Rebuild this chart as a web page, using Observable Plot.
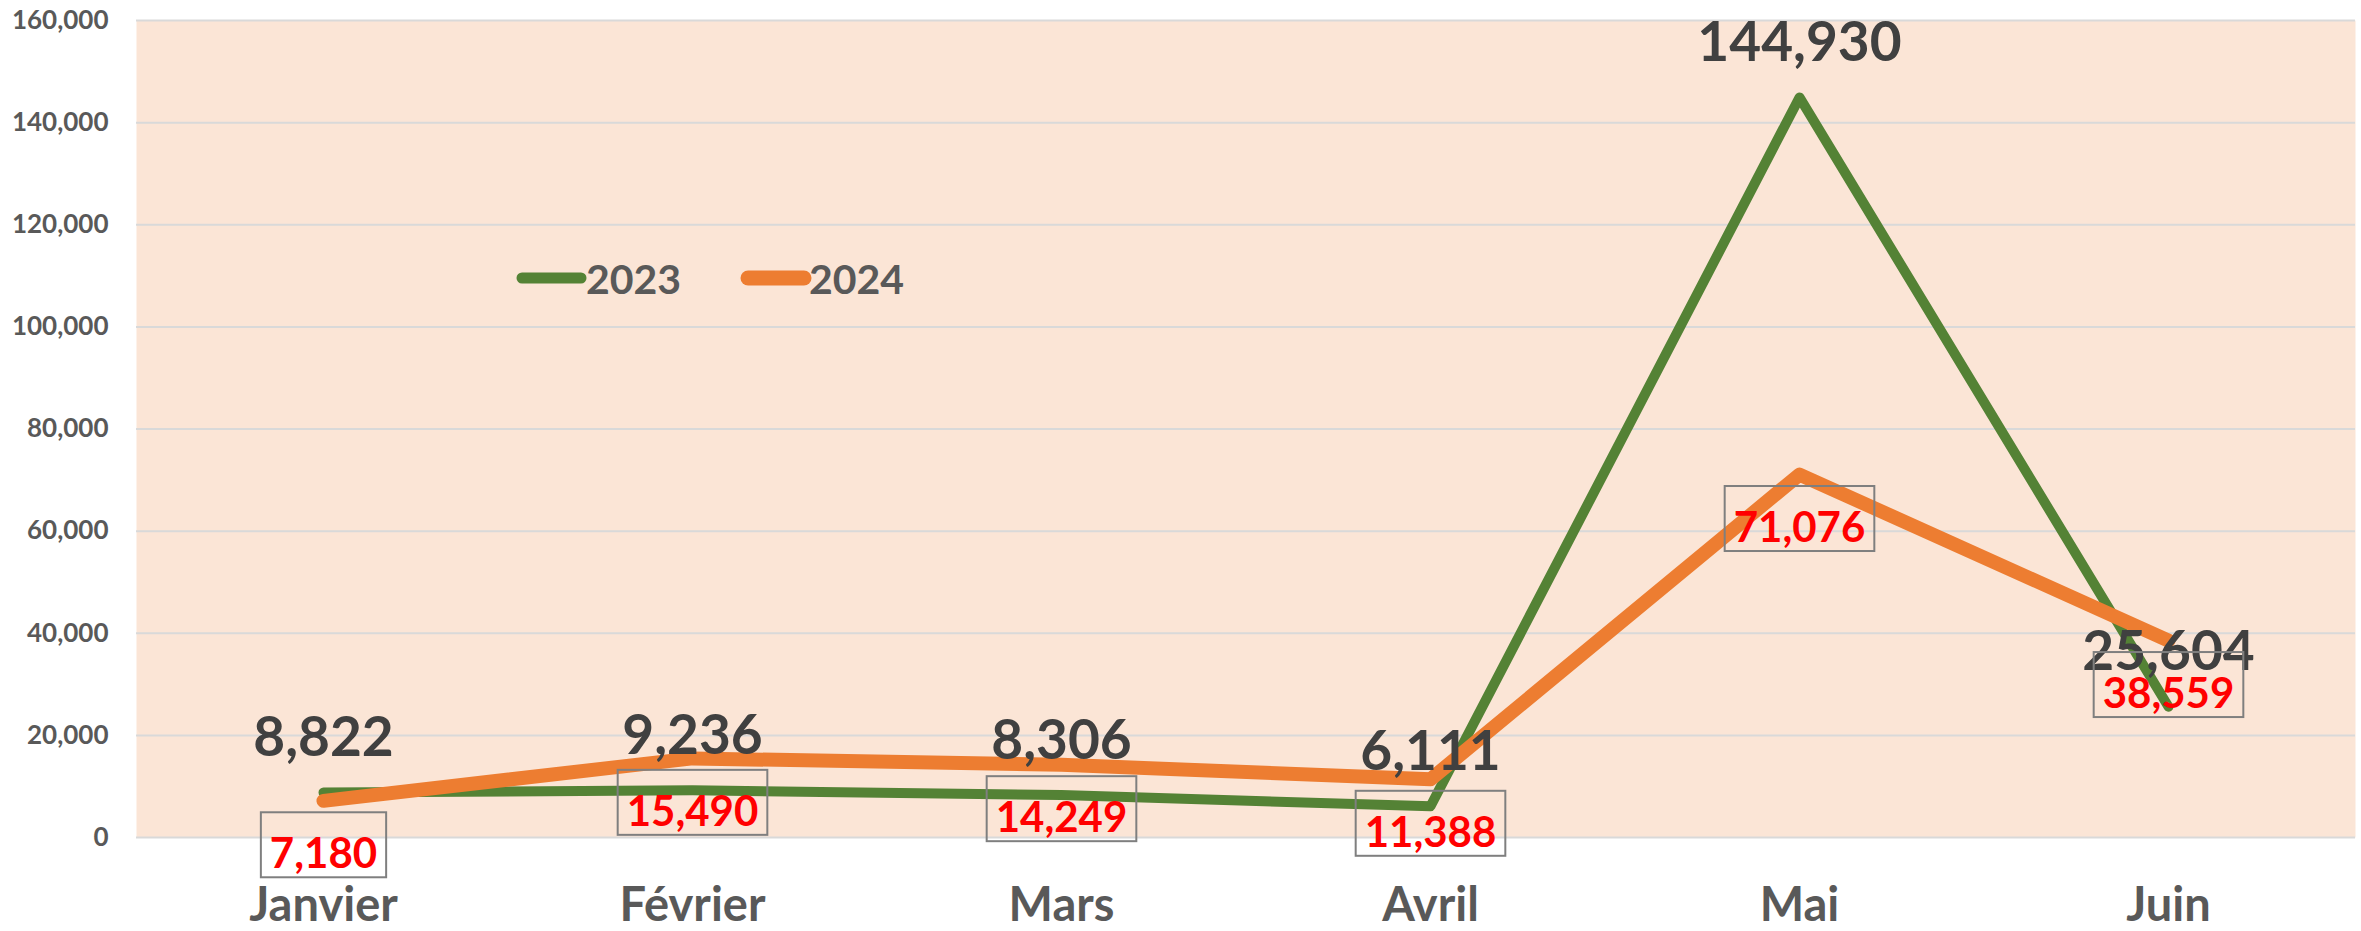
<!DOCTYPE html>
<html>
<head>
<meta charset="utf-8">
<script src="https://cdn.jsdelivr.net/npm/d3@7"></script>
<script src="https://cdn.jsdelivr.net/npm/@observablehq/plot@0.6"></script>
<style>
  body { margin: 0; background: #ffffff; }
  #chart { width: 2361px; height: 931px; }
</style>
</head>
<body>
<div id="chart"></div>
<script>
const months = ["Janvier", "Février", "Mars", "Avril", "Mai", "Juin"];
const values2023 = [8822, 9236, 8306, 6111, 144930, 25604];
const values2024 = [7180, 15490, 14249, 11388, 71076, 38559];
const yTicks = [0, 20000, 40000, 60000, 80000, 100000, 120000, 140000, 160000];
const seriesNames = ["2023", "2024"];
const seriesColors = ["#548235", "#ED7D31"];

const data2023 = months.map((m, i) => ({ month: m, value: values2023[i] }));
const data2024 = months.map((m, i) => ({ month: m, value: values2024[i] }));
const fmt = d3.format(",");

const plot = Plot.plot({
  width: 2361,
  height: 931,
  marginLeft: 136,
  marginRight: 6,
  marginTop: 20,
  marginBottom: 94,
  style: { fontFamily: "Lato, 'Open Sans', sans-serif", background: "#ffffff", overflow: "visible" },
  x: { type: "point", domain: months, padding: 0.5, label: null },
  y: { domain: [0, 160000], label: null },
  marks: [
    Plot.frame({ fill: "#FBE5D6", stroke: "none" }),
    Plot.gridY(yTicks, { stroke: "#d9d9d9", strokeOpacity: 1, strokeWidth: 2 }),
    Plot.axisY(yTicks, {
      tickSize: 0, tickPadding: 28, tickFormat: fmt, fontSize: 26,
      fontWeight: "bold", fill: "#595959", label: null
    }),
    Plot.axisX({
      tickSize: 0, tickPadding: 50, fontSize: 47, fontWeight: "bold",
      fill: "#595959", label: null
    }),
    Plot.line(data2023, {
      x: "month", y: "value", stroke: seriesColors[0], strokeWidth: 10,
      strokeLinecap: "round", strokeLinejoin: "round"
    }),
    Plot.line(data2024, {
      x: "month", y: "value", stroke: seriesColors[1], strokeWidth: 14,
      strokeLinecap: "round", strokeLinejoin: "round"
    }),
    Plot.text(data2023, {
      x: "month", y: "value", text: d => fmt(d.value), dy: -54,
      fontSize: 55, fontWeight: "bold", fill: "#404040"
    }),
    Plot.text(data2024, {
      x: "month", y: "value", text: d => fmt(d.value), dy: 54,
      fontSize: 42, fontWeight: "bold", fill: "#FF0000"
    })
  ]
});

document.getElementById("chart").appendChild(plot);

// boxes around the 2024 labels
const textGroups = plot.querySelectorAll('g[aria-label="text"]');
const g2024 = textGroups[textGroups.length - 1];
g2024.querySelectorAll("text").forEach(t => {
  const b = t.getBBox();
  const r = document.createElementNS("http://www.w3.org/2000/svg", "rect");
  r.setAttribute("x", b.x - 9);
  r.setAttribute("y", b.y - 15);
  r.setAttribute("width", b.width + 18);
  r.setAttribute("height", b.height + 15);
  r.setAttribute("fill", "none");
  r.setAttribute("stroke", "#7f7f7f");
  r.setAttribute("stroke-width", 2);
  if (t.getAttribute("transform")) r.setAttribute("transform", t.getAttribute("transform"));
  t.parentNode.insertBefore(r, t);
});

// legend inside the plot area
const legend = d3.select(plot).append("g").attr("class", "legend");
const legendItems = [
  { name: seriesNames[0], color: seriesColors[0], x1: 522, x2: 581, w: 11, tx: 586 },
  { name: seriesNames[1], color: seriesColors[1], x1: 748, x2: 804, w: 15, tx: 809 }
];
legendItems.forEach(it => {
  legend.append("line")
    .attr("x1", it.x1).attr("x2", it.x2).attr("y1", 278).attr("y2", 278)
    .attr("stroke", it.color).attr("stroke-width", it.w).attr("stroke-linecap", "round");
  legend.append("text")
    .attr("x", it.tx).attr("y", 294)
    .attr("text-anchor", "start")
    .attr("font-size", 41).attr("font-weight", "bold").attr("fill", "#595959")
    .attr("font-family", "Lato, 'Open Sans', sans-serif")
    .text(it.name);
});
</script>
</body>
</html>
